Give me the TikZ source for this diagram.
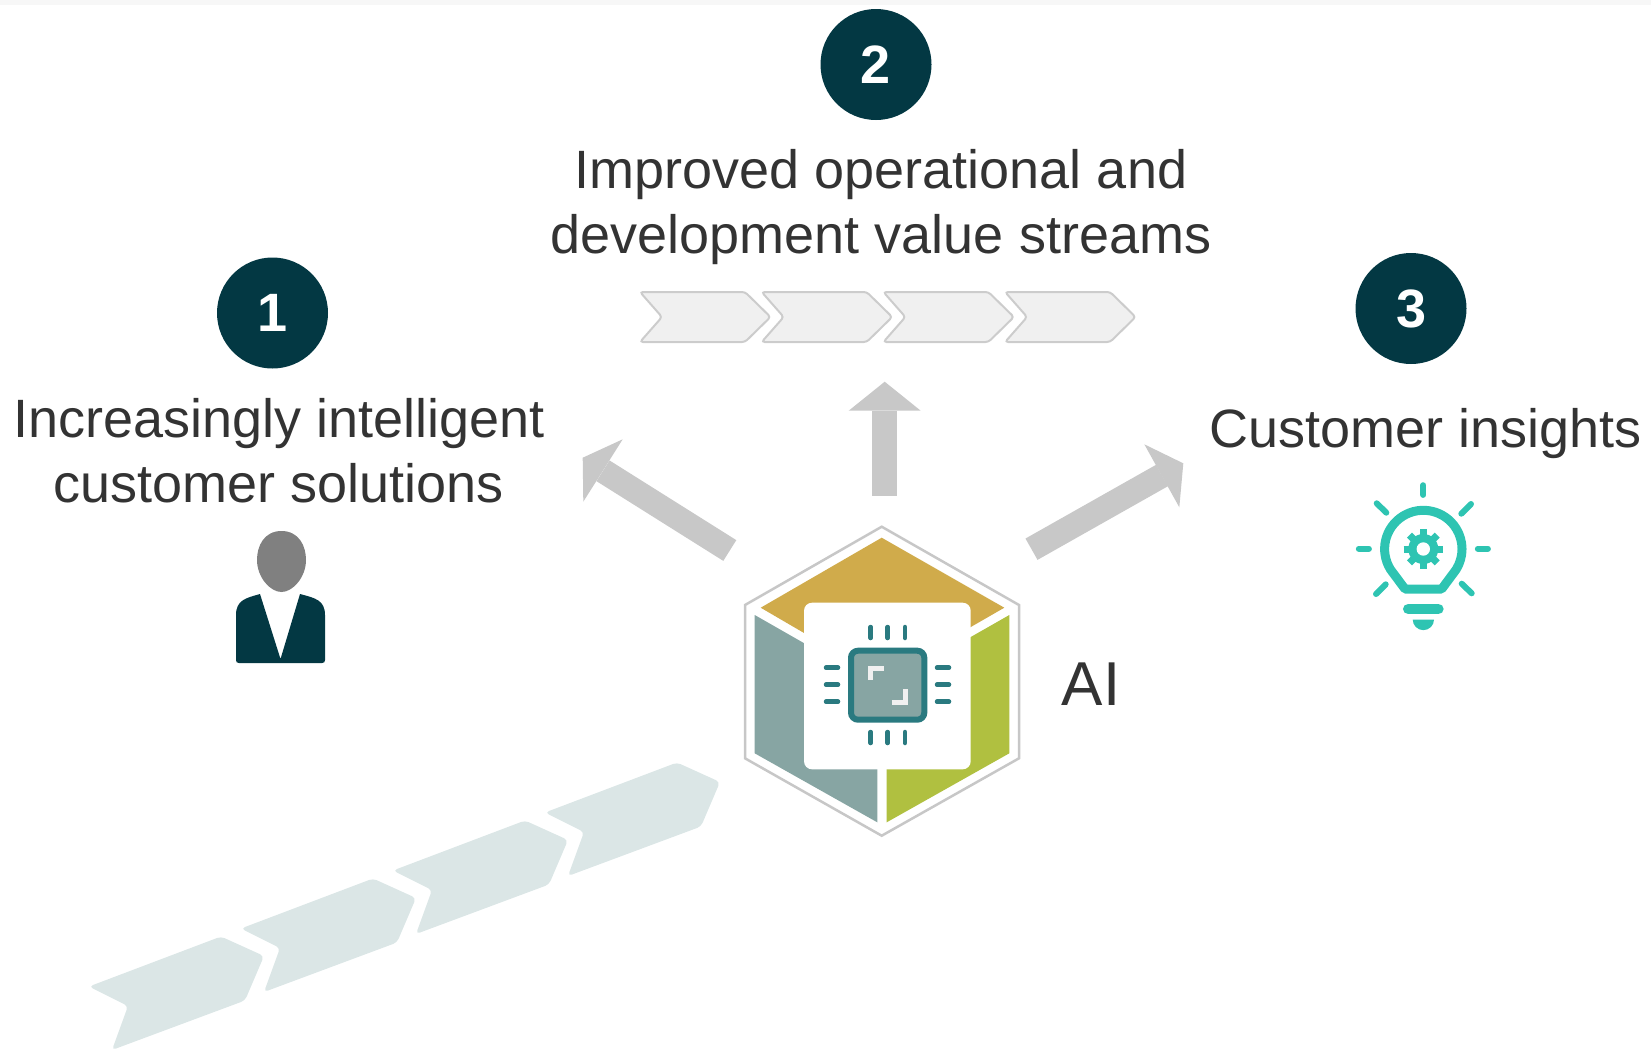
\documentclass[tikz,border=0pt]{standalone}
\usepackage{fontspec}
\setmainfont{Liberation Sans}
\definecolor{DarkTeal}{HTML}{033843}
\definecolor{TextGrey}{HTML}{333333}
\definecolor{ArrowGrey}{HTML}{C8C8C8}
\definecolor{HexGold}{HTML}{D0AB4B}
\definecolor{HexSage}{HTML}{87A5A3}
\definecolor{HexGreen}{HTML}{B0C040}
\definecolor{ChipTeal}{HTML}{2A7A80}
\definecolor{BulbTeal}{HTML}{2EC4B2}
\definecolor{PaleSage}{HTML}{DBE6E6}
\tikzstyle{NumNode}=[circle, fill=DarkTeal, text=white, minimum size=111pt, inner sep=0pt, font=\fontsize{54}{54}\selectfont\bfseries]
\tikzstyle{LabelNode}=[align=center, text=TextGrey, inner sep=0pt, font=\fontsize{54}{65}\selectfont]
\tikzstyle{GreyShaft}=[ArrowGrey, line width=24.5pt]
\tikzstyle{GreyHead}=[fill=ArrowGrey]
\tikzstyle{TopChevron}=[fill=black!6, draw=black!20, line width=2pt, rounded corners=3pt]
\tikzstyle{LowChevron}=[fill=PaleSage, rounded corners=4pt]
\tikzstyle{ChipPin}=[ChipTeal, line width=4.5pt, line cap=round]
\tikzstyle{ChipMark}=[black!6, line width=5pt]
\tikzstyle{BulbLine}=[BulbTeal, line width=9pt, line cap=round, line join=round]
\tikzstyle{BulbRay}=[BulbTeal, line width=6pt, line cap=round]
\tikzstyle{GearTooth}=[BulbTeal, line width=7pt]
\newcommand{\TopChevronPath}{(640,292) -- (745,292) -- (770.5,317) -- (745,342) -- (640,342) -- (662,317) -- cycle}
\newcommand{\LowChevronPath}{(89,986.5) -- (221,936.5) -- (264,956) -- (245,1000.5) -- (112,1050) -- (128,1006) -- cycle}
\begin{document}
\begin{tikzpicture}[x=1pt, y=-1pt]
\useasboundingbox (0,0) rectangle (1651,1050);
\fill[black!3] (0,0) rectangle (1651,5);
\node[NumNode](NumA) at (272.5,313) {1};
\node[NumNode](NumB) at (876,64.5) {2};
\node[NumNode](NumC) at (1411,308.5) {3};
\node[LabelNode](TextA) at (279,451) {Increasingly intelligent\\customer solutions};
\node[LabelNode](TextB) at (881,207.5) {Improved operational and\\development value streams};
\node[LabelNode](TextC) at (1426,434) {Customer insights};
\node[LabelNode, font=\fontsize{62}{62}\selectfont](TextAI) at (1091,684) {AI};

% value stream on top
\draw[TopChevron] \TopChevronPath;
\draw[TopChevron, xshift=121.7pt] \TopChevronPath;
\draw[TopChevron, xshift=243.4pt] \TopChevronPath;
\draw[TopChevron, xshift=365.1pt] \TopChevronPath;

% value stream below
\fill[LowChevron] \LowChevronPath;
\fill[LowChevron, xshift=152pt, yshift=58pt] \LowChevronPath;
\fill[LowChevron, xshift=304pt, yshift=116pt] \LowChevronPath;
\fill[LowChevron, xshift=456pt, yshift=174pt] \LowChevronPath;

% grey arrows
\coordinate(TailA) at (729.8,550.5);
\coordinate(NeckA) at (603,470.8);
\coordinate(TailB) at (884.7,495.7);
\coordinate(NeckB) at (884.7,410.7);
\coordinate(TailC) at (1031.5,549.2);
\coordinate(NeckC) at (1162,475.5);
\draw[GreyShaft](TailA) -- (NeckA);
\draw[GreyShaft](TailB) -- (NeckB);
\draw[GreyShaft](TailC) -- (NeckC);
\fill[GreyHead] (582.7,457.7) -- (622.7,439.3) -- (583.3,501.7) -- cycle;
\fill[GreyHead] (884.7,381.7) -- (920.7,410.7) -- (848.7,410.7) -- cycle;
\fill[GreyHead] (1183.3,463.3) -- (1144.3,444.3) -- (1179.3,507.3) -- cycle;

% hexagon
\draw[draw=black!22, line width=2.5pt, fill=white] (881.7,526.7) -- (1019,605) -- (1019,758.3) -- (881.7,835.7) -- (745,758.3) -- (745,605) -- cycle;
\fill[HexGold] (881.7,537.7) -- (1004.3,607.7) -- (881.7,678.3) -- (760.7,607.7) -- cycle;
\fill[HexSage] (754.7,615) -- (877.3,685) -- (877.3,822.3) -- (754.7,753.3) -- cycle;
\fill[HexGreen] (1009.3,615) -- (1009.3,753.3) -- (886.7,822.3) -- (886.7,685) -- cycle;
\fill[white, rounded corners=8pt] (804,602.7) rectangle (970.7,769.3);

% chip
\draw[ChipTeal, fill=HexSage, line width=6pt, rounded corners=7pt] (851,650.7) rectangle (924.3,719.7);
\draw[ChipPin] (870.7,627) -- (870.7,638) (887.7,627) -- (887.7,638) (905,627) -- (905,638);
\draw[ChipPin] (870.7,732) -- (870.7,743) (887.7,732) -- (887.7,743) (905,732) -- (905,743);
\draw[ChipPin] (826,667.7) -- (838,667.7) (826,684.7) -- (838,684.7) (826,701.7) -- (838,701.7);
\draw[ChipPin] (937,667.7) -- (949,667.7) (937,684.7) -- (949,684.7) (937,701.7) -- (949,701.7);
\draw[ChipMark] (870.7,680) -- (870.7,668) -- (883.7,668);
\draw[ChipMark] (891.7,702.7) -- (905,702.7) -- (905,689);

% person
\fill[gray] (281.5,531) .. controls (299,531) and (306,546) .. (306,560) .. controls (306,577) and (293,592) .. (281.5,592) .. controls (270,592) and (257,577) .. (257,560) .. controls (257,546) and (264,531) .. (281.5,531) -- cycle;
\fill[DarkTeal] (260,594) -- (280.5,659) -- (300,594) .. controls (315,598) and (325,600) .. (325,615) -- (325,660) .. controls (325,662) and (324,663) .. (322,663) -- (239,663) .. controls (237,663) and (236,662) .. (236,660) -- (236,615) .. controls (236,600) and (246,598) .. (260,594) -- cycle;

% light bulb
\draw[BulbLine] (1405,589) -- (1390.5,569.5) arc[start angle=212, end angle=-32, radius=38.7pt] -- (1441.7,589) -- cycle;
\draw[BulbLine, line width=10.7pt] (1408.3,609) -- (1438.3,609);
\fill[BulbTeal] (1412.7,619.5) -- (1434,619.5) arc[start angle=0, end angle=-180, radius=10.65pt] -- cycle;
\draw[BulbRay] (1423.3,485.2) -- (1423.3,494.9) (1358.8,548.7) -- (1368.9,548.7) (1477.8,548.7) -- (1487.9,548.7);
\draw[BulbRay] (1376.7,503.3) -- (1386.3,512.7) (1471,504) -- (1461.3,513.7);
\draw[BulbRay] (1376,594) -- (1385.7,584.3) (1471.7,593.3) -- (1461.7,583.7);
\draw[GearTooth] (1423.3,529.3) -- (1423.3,568.7) (1403.6,549) -- (1443,549);
\draw[GearTooth] (1409.4,535.1) -- (1437.2,562.9) (1409.4,562.9) -- (1437.2,535.1);
\fill[BulbTeal] (1423.3,549) circle (15pt);
\fill[white] (1423.3,549) circle (6.7pt);
\end{tikzpicture}
\end{document}
